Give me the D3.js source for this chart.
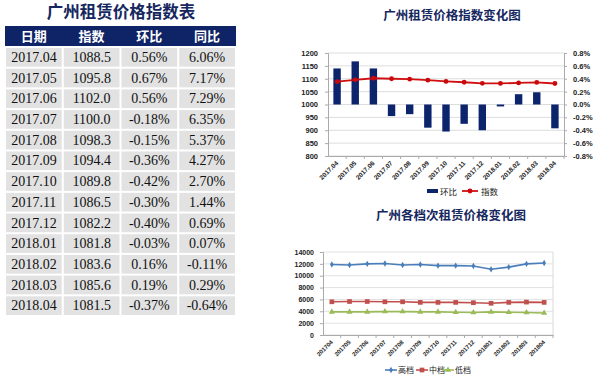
<!DOCTYPE html>
<html><head><meta charset="utf-8">
<script src="https://cdn.jsdelivr.net/npm/d3@7/dist/d3.min.js"></script>
<style>
body{margin:0;background:#fff;}
svg{display:block;}
</style></head>
<body><svg id="c" width="596" height="378"></svg>
<script>
// ---------- data ----------
const months = ["2017.04","2017.05","2017.06","2017.07","2017.08","2017.09","2017.10","2017.11","2017.12","2018.01","2018.02","2018.03","2018.04"];
const indexVals = [1088.5,1095.8,1102.0,1100.0,1098.3,1094.4,1089.8,1086.5,1082.2,1081.8,1083.6,1085.6,1081.5];
const momVals = [0.56,0.67,0.56,-0.18,-0.15,-0.36,-0.42,-0.30,-0.40,-0.03,0.16,0.19,-0.37];
const yoyVals = [6.06,7.17,7.29,6.35,5.37,4.27,2.70,1.44,0.69,0.07,-0.11,0.29,-0.64];
const tableHeaders = ["日期","指数","环比","同比"];
const leftTicks = [800,850,900,950,1000,1050,1100,1150,1200];
const rightTicks = [-0.8,-0.6,-0.4,-0.2,0,0.2,0.4,0.6,0.8];
const tierMonths = ["201704","201705","201706","201707","201708","201709","201710","201711","201712","201801","201802","201803","201804"];
const highVals = [11900,11800,12000,12050,11800,11900,11700,11700,11650,11100,11450,12000,12150];
const midVals = [5600,5650,5650,5600,5600,5500,5500,5500,5450,5350,5500,5550,5500];
const lowVals = [3900,3900,3900,3950,3950,3900,3900,3850,3800,3900,3850,3800,3700];
const tierTicks = [0,2000,4000,6000,8000,10000,12000,14000];
const tierNames = ["高档","中档","低档"];

const svg = d3.select("#c");
const navy = "#0f2466";
const titleColor = "#15275e";
const sans = "'Liberation Sans', Arial, sans-serif";
const cjk = "'Noto Sans CJK SC', sans-serif";

// ---------- table ----------
svg.append("text").attr("x",121).attr("y",18).attr("text-anchor","middle")
  .attr("font-family",cjk).attr("font-weight",700).attr("font-size",16.5)
  .attr("fill",titleColor).text("广州租赁价格指数表");

const colX = d3.scaleBand().domain(d3.range(4)).range([5,236]);
svg.append("rect").attr("x",5).attr("y",26).attr("width",231).attr("height",20).attr("fill",navy);
tableHeaders.forEach((h,i)=>{
  svg.append("text").attr("x",colX(i)+colX.bandwidth()/2).attr("y",40.5)
    .attr("text-anchor","middle").attr("font-family",cjk).attr("font-weight",700)
    .attr("font-size",13).attr("fill","#fff").text(h);
});
const rowY = d3.scaleBand().domain(d3.range(months.length)).range([47.5,316.5]);
months.forEach((m,r)=>{
  const cells = [m, indexVals[r].toFixed(1), momVals[r].toFixed(2)+"%", yoyVals[r].toFixed(2)+"%"];
  cells.forEach((t,i)=>{
    svg.append("rect").attr("x",colX(i)+1).attr("y",rowY(r)+0.5)
      .attr("width",colX.bandwidth()-2).attr("height",rowY.bandwidth()-2).attr("fill","#e2e2e2");
    svg.append("text").attr("x",colX(i)+colX.bandwidth()/2).attr("y",rowY(r)+14.5)
      .attr("text-anchor","middle").attr("font-family","'Liberation Serif', 'Times New Roman', serif")
      .attr("font-size",14).attr("fill","#111").text(t);
  });
});

// ---------- chart 1 ----------
svg.append("text").attr("x",452).attr("y",20).attr("text-anchor","middle")
  .attr("font-family",cjk).attr("font-weight",700).attr("font-size",12.5)
  .attr("fill",titleColor).text("广州租赁价格指数变化图");

const x1 = d3.scaleBand().domain(months).range([328,564]);
const yL = d3.scaleLinear().domain([800,1200]).range([156,53]);
const yR = d3.scaleLinear().domain([-0.8,0.8]).range([156,53]);
const g1 = svg.append("g");
g1.selectAll(".grid").data(leftTicks).enter().append("line")
  .attr("x1",328).attr("x2",564).attr("y1",d=>yL(d)).attr("y2",d=>yL(d))
  .attr("stroke","#d4d4d4").attr("stroke-width",0.8);
const axL = g1.append("g").attr("transform","translate(328,0)")
  .call(d3.axisLeft(yL).tickValues(leftTicks).tickSize(3).tickPadding(7).tickFormat(d3.format("d")));
const axR = g1.append("g").attr("transform","translate(564,0)")
  .call(d3.axisRight(yR).tickValues(rightTicks).tickSize(3).tickPadding(6)
    .tickFormat(d=>(d<0?"-":"") + Math.abs(d).toFixed(1)+"%"));
const axB = g1.append("g").attr("transform","translate(0,156)")
  .call(d3.axisBottom(x1).tickSize(3).tickSizeOuter(0));
[axL,axR,axB].forEach(a=>{
  a.selectAll("path,line").attr("stroke","#aaa");
  a.selectAll("text").attr("font-family",sans).attr("font-weight",700).attr("font-size",7.5).attr("fill","#222");
});
axB.selectAll("text").attr("transform","translate(-4,2) rotate(-45)").attr("text-anchor","end")
  .attr("dy","0.3em").attr("font-size",6.5);
axB.selectAll("line").attr("transform",(d)=>"translate("+(x1.bandwidth()/2)+",0)");
g1.selectAll(".bar").data(momVals).enter().append("rect")
  .attr("x",(d,i)=>x1(months[i])+x1.bandwidth()/2-3.7).attr("width",7.4)
  .attr("y",d=>Math.min(yR(d),yR(0))).attr("height",d=>Math.abs(yR(d)-yR(0)))
  .attr("fill","#0b246b");
const line1 = d3.line().x((d,i)=>x1(months[i])+x1.bandwidth()/2).y(d=>yL(d));
g1.append("path").datum(indexVals).attr("d",line1).attr("fill","none").attr("stroke","#d01010").attr("stroke-width",1.8);
g1.selectAll(".dot").data(indexVals).enter().append("circle")
  .attr("cx",(d,i)=>x1(months[i])+x1.bandwidth()/2).attr("cy",d=>yL(d)).attr("r",2.4).attr("fill","#c80a0a");
// legend
svg.append("rect").attr("x",427).attr("y",189).attr("width",11).attr("height",4).attr("fill","#0b246b");
svg.append("text").attr("x",440).attr("y",194.5).attr("font-family",cjk).attr("font-size",8.5).attr("fill","#222").text("环比");
svg.append("line").attr("x1",462).attr("x2",478).attr("y1",191).attr("y2",191).attr("stroke","#d01010").attr("stroke-width",1.8);
svg.append("circle").attr("cx",470).attr("cy",191).attr("r",2.4).attr("fill","#c80a0a");
svg.append("text").attr("x",481).attr("y",194.5).attr("font-family",cjk).attr("font-size",8.5).attr("fill","#222").text("指数");

// ---------- chart 2 ----------
svg.append("text").attr("x",451).attr("y",220).attr("text-anchor","middle")
  .attr("font-family",cjk).attr("font-weight",700).attr("font-size",12.5)
  .attr("fill",titleColor).text("广州各档次租赁价格变化图");
const x2 = d3.scaleBand().domain(tierMonths).range([323,553]);
const y2 = d3.scaleLinear().domain([0,14000]).range([335,252]);
const g2 = svg.append("g");
g2.selectAll(".grid").data(tierTicks).enter().append("line")
  .attr("x1",323).attr("x2",553).attr("y1",d=>y2(d)).attr("y2",d=>y2(d))
  .attr("stroke","#d9d9d9").attr("stroke-width",0.8);
g2.append("line").attr("x1",553).attr("x2",553).attr("y1",252).attr("y2",335).attr("stroke","#d9d9d9");
const ax2L = g2.append("g").attr("transform","translate(323,0)")
  .call(d3.axisLeft(y2).tickValues(tierTicks).tickSize(3).tickPadding(6).tickFormat(d3.format("d")));
const ax2B = g2.append("g").attr("transform","translate(0,335)")
  .call(d3.axisBottom(x2).tickSize(3).tickSizeOuter(0));
[ax2L,ax2B].forEach(a=>{
  a.selectAll("path,line").attr("stroke","#aaa");
  a.selectAll("text").attr("font-family",sans).attr("font-weight",700).attr("font-size",7).attr("fill","#222");
});
ax2B.selectAll("text").attr("transform","translate(-4,2) rotate(-45)").attr("text-anchor","end")
  .attr("dy","0.3em").attr("font-size",6);
ax2B.selectAll("line").attr("transform","translate("+(x2.bandwidth()/2)+",0)");
const tierSeries = [highVals, midVals, lowVals];
const tierColors = ["#4a7ebb","#c0504d","#9bbb59"];
const tierMarker = [d3.symbolDiamond, d3.symbolSquare, d3.symbolTriangle];
const tierSize = [12, 22, 16];
const line2 = d3.line().x((d,i)=>x2(tierMonths[i])+x2.bandwidth()/2).y(d=>y2(d));
tierSeries.forEach((s,k)=>{
  g2.append("path").datum(s).attr("d",line2).attr("fill","none").attr("stroke",tierColors[k]).attr("stroke-width",1.6);
  g2.selectAll(".m"+k).data(s).enter().append("path")
    .attr("d",d3.symbol().type(tierMarker[k]).size(tierSize[k]))
    .attr("transform",(d,i)=>"translate("+(x2(tierMonths[i])+x2.bandwidth()/2)+","+y2(d)+")")
    .attr("fill",tierColors[k]);
});
// legend
const legX = [385,416,442];
tierNames.forEach((n,k)=>{
  svg.append("line").attr("x1",legX[k]).attr("x2",legX[k]+12).attr("y1",370).attr("y2",370).attr("stroke",tierColors[k]).attr("stroke-width",1.6);
  svg.append("path").attr("d",d3.symbol().type(tierMarker[k]).size(tierSize[k])())
    .attr("transform","translate("+(legX[k]+6)+",370)").attr("fill",tierColors[k]);
  svg.append("text").attr("x",legX[k]+13).attr("y",373).attr("font-family",cjk).attr("font-size",8).attr("fill","#222").text(n);
});
</script></body></html>
